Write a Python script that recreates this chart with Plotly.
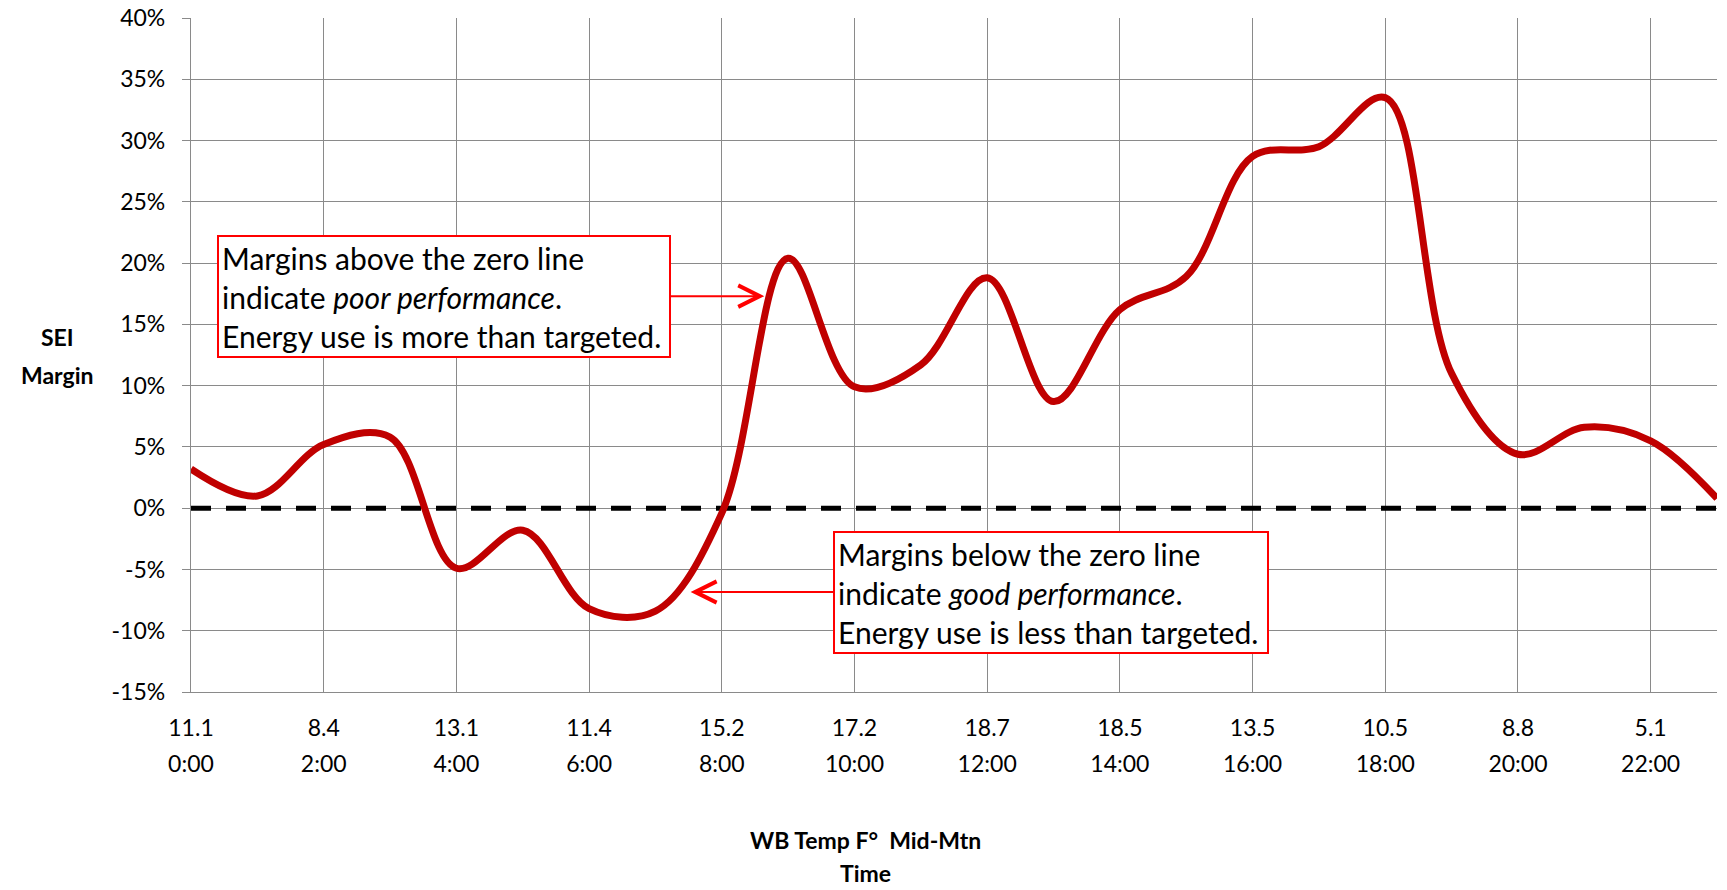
import plotly.graph_objects as go

# ---- data ----
hours = [f"{h}:00" for h in range(24)]
sei_margin = [0.032, 0.010, 0.052, 0.058, -0.049, -0.018, -0.082, -0.084,
              -0.004, 0.204, 0.099, 0.117, 0.188, 0.087, 0.162, 0.189,
              0.287, 0.295, 0.335, 0.110, 0.044, 0.066, 0.055, 0.008]
zero_line = [0.0] * 24
label_hours = hours[::2]
wb_temps = ["11.1", "8.4", "13.1", "11.4", "15.2", "17.2",
            "18.7", "18.5", "13.5", "10.5", "8.8", "5.1"]
y_ticks = [-0.15, -0.10, -0.05, 0.0, 0.05, 0.10, 0.15, 0.20, 0.25, 0.30, 0.35, 0.40]
y_tick_text = [f"{round(v * 100)}%" for v in y_ticks]

FONT = "Lato, 'Open Sans', sans-serif"
GRID = "#8a8a8a"

def sp(s, size):
    return f"<span style='font-size:{size}px'>{s}</span>"

tick_text = [sp(t, 23) + "<br>" + sp(h, 23) for t, h in zip(wb_temps, label_hours)]

fig = go.Figure()
fig.add_trace(go.Scatter(
    x=hours, y=zero_line, mode="lines",
    line=dict(color="black", width=5, dash="20px,15px"),
    hoverinfo="skip", showlegend=False))
fig.add_trace(go.Scatter(
    x=hours, y=sei_margin, mode="lines",
    line=dict(color="#C00000", width=7, shape="spline", smoothing=1),
    showlegend=False, name="SEI Margin"))

# the page body adds an 8px offset, so the figure is 8px smaller
fig.update_layout(
    width=1719, height=882,
    margin=dict(l=183, r=10, t=10, b=198, autoexpand=False),
    paper_bgcolor="white", plot_bgcolor="white",
    font=dict(family=FONT, size=23, color="black"),
    xaxis=dict(
        type="category", range=[0, 23], automargin=False,
        tickvals=label_hours, ticktext=tick_text,
        showgrid=True, gridcolor=GRID, gridwidth=1.3,
        showline=True, linecolor=GRID, linewidth=1.3,
        ticks="", ticklabelstandoff=9,
        tickfont=dict(family=FONT, size=28, color="black"),
        zeroline=False, fixedrange=True,
    ),
    yaxis=dict(
        range=[-0.15, 0.40], tickvals=y_ticks, ticktext=y_tick_text,
        automargin=False, ticklabeloverflow="allow",
        showgrid=True, gridcolor=GRID, gridwidth=1.3,
        showline=True, linecolor=GRID, linewidth=1.3,
        ticks="outside", ticklen=8, tickcolor=GRID, tickwidth=1.3,
        ticklabelstandoff=12,
        tickfont=dict(family=FONT, size=23, color="black"),
        zeroline=False, fixedrange=True,
    ),
)

# axis titles
fig.add_annotation(
    xref="paper", yref="paper", x=-0.0875, y=0.4985,
    xanchor="center", yanchor="middle", showarrow=False,
    text=sp("<b>SEI</b>", 23) + "<br>" + sp("<b>Margin</b>", 23),
    font=dict(family=FONT, size=29, color="black"))
fig.add_annotation(
    xref="paper", yref="paper", x=0.442, y=-0.2435,
    xanchor="center", yanchor="middle", showarrow=False,
    text=sp("<b>WB Temp F°\u00a0 Mid-Mtn</b>", 23) + "<br>" + sp("<b>Time</b>", 23),
    font=dict(family=FONT, size=25, color="black"))

box_font = dict(family=FONT, size=30, color="black")

fig.add_annotation(
    x=8.64, y=0.173, xref="x", yref="y",
    ax=-320, ay=0,
    text="Margins above the zero line<br>"
         "indicate <i>poor performance</i>.<br>"
         "Energy use is more than targeted.",
    align="left", width=444, height=113,
    bgcolor="white", bordercolor="#FF0000", borderwidth=2, borderpad=3,
    showarrow=True, arrowcolor="#FF0000", arrowwidth=2, arrowhead=5, arrowsize=2.1,
    font=box_font)
fig.add_annotation(
    x=7.53, y=-0.0684, xref="x", yref="y",
    ax=360, ay=0,
    text="Margins below the zero line<br>"
         "indicate <i>good performance</i>.<br>"
         "Energy use is less than targeted.",
    align="left", width=426, height=113,
    bgcolor="white", bordercolor="#FF0000", borderwidth=2, borderpad=3,
    showarrow=True, arrowcolor="#FF0000", arrowwidth=2, arrowhead=5, arrowsize=2.1,
    font=box_font)

fig.write_html("out.html")
